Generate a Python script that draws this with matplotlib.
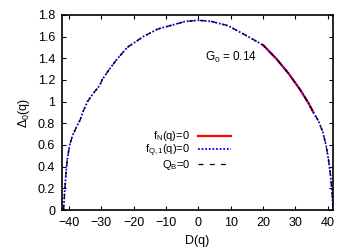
import numpy as np
import matplotlib
matplotlib.use('Agg')
import matplotlib.pyplot as plt

plt.rcParams['font.family'] = 'Liberation Sans'
plt.rcParams['mathtext.fontset'] = 'custom'
plt.rcParams['mathtext.rm'] = 'Liberation Sans'
plt.rcParams['mathtext.it'] = 'Liberation Sans'

# full curve Delta_0(q) vs D(q)
D = [-41.7, -41.4, -41.0, -40.5, -39.8, -38.9, -37.8, -36.6, -35.5, -34.3, -32.4, -30.5,
     -29.8, -27.5, -25.2, -22.0, -17.0, -12.5, -8.8, -4.0, 0.0, 4.0, 9.2, 15.4,
     20.1, 24.3, 27.9, 31.5, 34.1, 35.8, 37.2, 38.5, 39.5, 40.3, 40.9, 41.4, 41.7]
delta = [0.0, 0.15, 0.32, 0.48, 0.6, 0.69, 0.76, 0.83, 0.92, 1.0, 1.08, 1.15,
         1.2, 1.3, 1.39, 1.5, 1.6, 1.67, 1.7, 1.74, 1.75, 1.74, 1.7, 1.6,
         1.52, 1.39, 1.26, 1.11, 0.985, 0.89, 0.82, 0.72, 0.6, 0.46, 0.32, 0.15, 0.0]

# f_N(q)=0 branch only exists on part of the curve
D_fn = [20.1, 24.3, 27.9, 31.5, 34.1, 35.5]
delta_fn = [1.52, 1.39, 1.26, 1.11, 0.985, 0.905]

xticks = [-40, -30, -20, -10, 0, 10, 20, 30, 40]
yticks = [0, 0.2, 0.4, 0.6, 0.8, 1, 1.2, 1.4, 1.6, 1.8]

fig = plt.figure(figsize=(3.54, 2.48), dpi=100)
ax = fig.add_axes([0.175, 0.153, 0.766, 0.787])

ax.plot(D_fn, delta_fn, color='red', lw=1.6, label='$f_N$(q)=0')
ax.plot(D, delta, color='blue', lw=1.3, ls=(0, (1, 1)), label='$f_{Q,1}$(q)=0')
ax.plot(D, delta, color='black', lw=0.9, ls=(0, (4, 5)), label='$Q_B$=0')

ax.set_xlim(-42.2, 41.7)
ax.set_ylim(0, 1.8)
ax.set_xticks(xticks)
ax.set_yticks(yticks)
ax.yaxis.set_major_formatter(plt.FuncFormatter(lambda v, p: '%g' % v))
ax.tick_params(direction='in', top=True, right=True, labelsize=9, length=3, width=0.8, pad=5)
for s in ax.spines.values():
    s.set_linewidth(1.2)

ax.set_xlabel('D(q)', fontsize=9, labelpad=4)
ax.set_ylabel(r'$\Delta_0$(q)', fontsize=9, labelpad=4)

ax.text(2, 1.38, '$G_0$ = 0.14', fontsize=8.5)

ax.legend(loc='upper right', bbox_to_anchor=(0.625, 0.413), markerfirst=False,
          frameon=False, fontsize=8, handlelength=3.0, handletextpad=0.7,
          labelspacing=-0.1, borderpad=0, borderaxespad=0)

fig.savefig('out.png', dpi=100)
